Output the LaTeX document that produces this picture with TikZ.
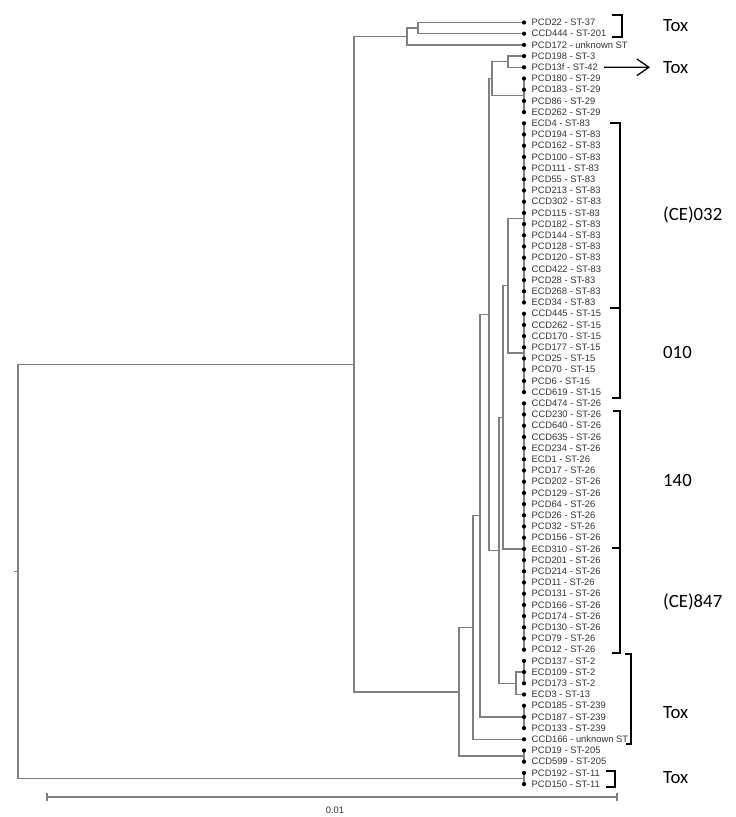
\documentclass[tikz,border=0pt]{standalone}
\usepackage{fontspec}
\newfontfamily\megafont{Liberation Sans}
\newfontfamily\calfont{Carlito}
\usetikzlibrary{arrows.meta,calc}

\tikzset{
  branch/.style={draw=black!50, line width=1.2pt},
  leafdot/.style={circle, fill=black, inner sep=0pt, minimum size=3.6pt},
  lab/.style={anchor=west, inner sep=0pt, text=black!80, font=\megafont\fontsize{8}{9}\selectfont},
  grp/.style={anchor=west, inner sep=0pt, font=\calfont\fontsize{16}{18}\selectfont},
  brk/.style={draw=black, line width=1.3pt},
}

\begin{document}
\begin{tikzpicture}[x=0.03cm, y=-0.03cm]
  \useasboundingbox (0,0) rectangle (736,817);

  % leaves
  \foreach \lab [count=\i] in {PCD22 - ST-37, CCD444 - ST-201, PCD172 - unknown ST,
      PCD198 - ST-3, PCD13f - ST-42, PCD180 - ST-29, PCD183 - ST-29, PCD86 - ST-29,
      ECD262 - ST-29, ECD4 - ST-83, PCD194 - ST-83, PCD162 - ST-83, PCD100 - ST-83,
      PCD111 - ST-83, PCD55 - ST-83, PCD213 - ST-83, CCD302 - ST-83, PCD115 - ST-83,
      PCD182 - ST-83, PCD144 - ST-83, PCD128 - ST-83, PCD120 - ST-83, CCD422 - ST-83,
      PCD28 - ST-83, ECD268 - ST-83, ECD34 - ST-83, CCD445 - ST-15, CCD262 - ST-15,
      CCD170 - ST-15, PCD177 - ST-15, PCD25 - ST-15, PCD70 - ST-15, PCD6 - ST-15,
      CCD619 - ST-15, CCD474 - ST-26, CCD230 - ST-26, CCD640 - ST-26, CCD635 - ST-26,
      ECD234 - ST-26, ECD1 - ST-26, PCD17 - ST-26, PCD202 - ST-26, PCD129 - ST-26,
      PCD64 - ST-26, PCD26 - ST-26, PCD32 - ST-26, PCD156 - ST-26, ECD310 - ST-26,
      PCD201 - ST-26, PCD214 - ST-26, PCD11 - ST-26, PCD131 - ST-26, PCD166 - ST-26,
      PCD174 - ST-26, PCD130 - ST-26, PCD79 - ST-26, PCD12 - ST-26, PCD137 - ST-2,
      ECD109 - ST-2, PCD173 - ST-2, ECD3 - ST-13, PCD185 - ST-239, PCD187 - ST-239,
      PCD133 - ST-239, CCD166 - unknown ST, PCD19 - ST-205, CCD599 - ST-205,
      PCD192 - ST-11, PCD150 - ST-11} {
    \coordinate (l\i) at (524,{22.5+11.2*(\i-1)});
    \node[lab] (t\i) at (531.5,{22.5+11.2*(\i-1)}) {\lab};
  }

  % collapsed groups
  \coordinate (g29) at (524,95.3);
  \coordinate (g83) at (524,218.5);
  \coordinate (g15) at (524,352.9);
  \coordinate (g26) at (524,548.9);
  \coordinate (g2) at (524,672.1);
  \coordinate (g239) at (524,716.9);
  \coordinate (g205) at (524,756.1);
  \coordinate (g11) at (524,778.5);

  % internal nodes
  \coordinate (B1) at (418,28.1);
  \coordinate (B) at (407,36.5);
  \coordinate (N) at (508,61.7);
  \coordinate (F) at (492,78.5);
  \coordinate (L) at (508,285.7);
  \coordinate (M) at (503,417.3);
  \coordinate (J) at (516,683.3);
  \coordinate (H) at (499,550.3);
  \coordinate (G) at (489,314.4);
  \coordinate (E) at (480,515.7);
  \coordinate (D) at (473,627.5);
  \coordinate (C) at (459,691.8);
  \coordinate (A) at (354,364.2);
  \coordinate (R) at (18,571.3);
  \coordinate (stub) at (14,571.3);

  \draw[branch] (stub) -- (R);
  \foreach \p/\c in {R/A, R/g11, A/B, A/C, B/B1, B/l3, B1/l1, B1/l2,
      C/D, C/g205, D/E, D/l65, E/G, E/g239, G/F, G/H, F/N, F/g29,
      N/l4, N/l5, H/M, H/J, M/L, M/g26, L/g83, L/g15, J/g2, J/l61}
    \draw[branch] (\p) |- (\c);
  \foreach \g/\a/\b in {g29/6/9, g83/10/26, g15/27/34, g26/35/57,
      g2/58/60, g239/62/64, g205/66/67, g11/68/69}
    \foreach \i in {\a,...,\b}
      \draw[branch] (\g) |- (l\i);

  \foreach \i in {1,...,69}
    \node[leafdot] (d\i) at (l\i) {};

  % group labels
  \node[grp] (tox1) at (663,26) {Tox};
  \node[grp] (tox2) at (663,67.3) {Tox};
  \node[grp] (ce032) at (663,215) {(CE)032};
  \node[grp] (o010) at (663,352) {010};
  \node[grp] (o140) at (663,480) {140};
  \node[grp] (ce847) at (663,602) {(CE)847};
  \node[grp] (tox3) at (663,713) {Tox};
  \node[grp] (tox4) at (663,778) {Tox};

  \draw[line width=1.1pt, -{Straight Barb[length=0.36cm, width=0.5cm]}]
    ([xshift=0.18cm]t5.east) -- ([xshift=-0.39cm]tox2.west);

  % brackets
  \draw[brk] (612,15) -- (622,15) -- (622,37) -- (612,37);
  \draw[brk] (610,123) -- (620,123) -- (620,398) -- (612,398);
  \draw[brk] (610,308) -- (620,308);
  \draw[brk] (613,411) -- (620,411) -- (620,653) -- (612,653);
  \draw[brk] (612,548) -- (620,548);
  \draw[brk] (625,654) -- (631,654) -- (631,744) -- (626,744);
  \draw[brk] (606,771) -- (615,771) -- (615,787) -- (606,787);

  % scale bar
  \coordinate (s0) at (47,797);
  \coordinate (s1) at (617,797);
  \draw[branch] (s0) -- (s1);
  \draw[branch] ($(s0)+(0,-4)$) -- ($(s0)+(0,4)$);
  \draw[branch] ($(s1)+(0,-4)$) -- ($(s1)+(0,4)$);
  \node[lab, anchor=center] (sc) at (335,810) {0.01};
\end{tikzpicture}
\end{document}
